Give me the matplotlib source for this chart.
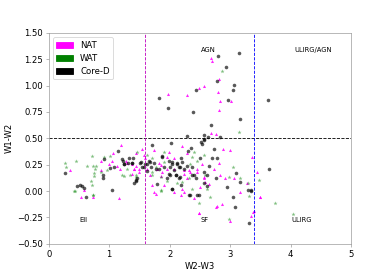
import matplotlib
matplotlib.use("Agg")
import matplotlib.pyplot as plt
import matplotlib.patches as mpatches

# colour-colour points (W2-W3, W1-W2)
nat_x = [2.68, 2.70, 2.81, 2.56, 2.48, 1.98, 2.28, 2.80, 2.84, 3.01, 2.81, 2.68, 2.77,
         1.19, 0.86, 1.00, 1.05, 1.13, 1.18, 1.30, 1.41, 1.07, 0.58, 0.53, 0.73, 1.16, 0.87,
         1.55, 1.74, 2.21, 1.44, 1.49, 1.60, 1.82, 1.96, 2.07, 1.88, 2.07, 2.23, 2.32, 2.45,
         2.56, 1.68, 1.77, 2.07, 2.18, 2.23, 2.40, 2.48, 1.38,
         3.00, 2.88, 3.36, 2.81, 2.73, 2.84, 2.92, 3.06, 3.17, 3.28, 3.50, 2.78, 2.76, 2.87,
         3.00, 3.38, 2.56, 2.65, 3.44, 3.39, 2.48, 3.49, 3.35, 0.35,
         1.44, 1.57, 1.99, 2.29, 1.27, 1.38, 1.41, 1.49, 1.63, 1.79, 1.85, 1.96, 2.23, 2.34,
         2.29, 2.45, 2.54, 1.85, 1.71, 1.90, 2.21, 1.74, 2.51, 2.59]
nat_y = [1.26, 1.23, 1.06, 1.00, 0.98, 0.92, 0.91, 0.94, 0.85, 0.85, 0.77, 0.55, 0.54,
         0.44, 0.29, 0.26, 0.29, 0.24, 0.21, 0.27, 0.21, 0.36, 0.01, -0.06, -0.06, -0.07, 0.20,
         0.40, 0.39, 0.43, 0.24, 0.21, 0.31, 0.27, 0.32, 0.31, 0.18, 0.21, 0.16, 0.20, 0.18,
         0.13, 0.15, -0.03, -0.01, -0.04, -0.01, -0.07, -0.21, 0.16,
         0.39, 0.40, 0.32, 0.27, 0.21, 0.15, 0.12, 0.12, -0.01, 0.08, -0.06, -0.14, -0.15, -0.12,
         -0.28, -0.20, 0.12, 0.07, 0.18, -0.19, -0.21, -0.06, -0.24, 0.20,
         0.36, 0.34, 0.37, 0.36, 0.29, 0.26, 0.21, 0.18, 0.21, 0.21, 0.25, 0.21, 0.20, 0.18,
         0.12, 0.21, 0.26, 0.14, 0.06, 0.06, 0.02, -0.01, 0.04, 0.09]

wat_x = [2.87, 3.14,
         0.27, 0.28, 0.45, 0.72, 0.64, 0.73, 0.78, 0.76, 0.75, 0.75, 0.70, 0.71, 0.43, 0.74,
         0.91, 1.02, 1.24, 1.34, 0.86, 0.97, 0.42, 0.73,
         1.46, 1.90, 2.37, 2.45, 1.71, 1.85, 2.32, 1.85, 2.37, 2.48, 1.44, 1.63, 2.12,
         3.04, 3.16, 2.99, 3.29, 3.31, 3.47, 2.99, 2.59, 2.67, 3.75, 4.04,
         1.22, 1.30, 1.44, 1.71, 1.77, 1.90, 1.96, 1.85, 2.34, 2.40, 2.56, 2.21, 1.71, 2.62]
wat_y = [1.14, 0.56,
         0.27, 0.23, 0.29, 0.33, 0.24, 0.24, 0.24, 0.21, 0.17, 0.14, 0.10, 0.06, 0.00, -0.04,
         0.32, 0.33, 0.14, 0.15, 0.18, 0.20, 0.00, -0.04,
         0.37, 0.37, 0.32, 0.29, 0.18, 0.13, 0.12, 0.00, 0.02, -0.11, 0.13, 0.34, 0.08,
         0.23, 0.12, 0.13, 0.08, -0.05, 0.11, -0.26, 0.15, -0.06, -0.11, -0.22,
         0.15, 0.21, 0.15, 0.31, 0.23, 0.28, 0.10, 0.01, 0.26, 0.37, 0.34, 0.09, 0.15, 0.02]

cored_x = [2.80, 3.14, 2.93, 2.79, 3.07, 3.04, 2.44, 1.82, 1.97, 2.96, 2.39, 3.17, 2.68,
           3.63, 2.28, 2.57, 2.64, 2.84, 2.56,
           0.27, 0.46, 0.51, 0.55, 0.58, 0.62, 1.05, 0.89, 0.90, 1.14, 0.92, 1.01, 1.08,
           1.22, 1.25, 1.32, 1.39, 1.37, 1.44,
           1.71, 2.02, 2.35, 2.30, 2.52, 1.38, 1.51, 1.57, 1.63, 1.66, 1.69, 1.74, 1.77,
           1.82, 1.88, 1.90, 1.99, 2.04, 2.12, 2.15, 2.18, 2.23, 2.29, 2.37, 1.99, 2.10,
           2.17, 2.04, 2.18, 2.33, 2.45, 1.41, 1.46, 1.62, 1.96, 2.40,
           2.73, 2.56, 2.54, 2.70, 2.78, 2.65, 3.10, 2.76, 2.56, 2.95, 3.05, 3.16, 3.30,
           3.34, 3.31, 3.65, 2.62, 3.08, 3.35,
           1.23, 1.31, 1.24, 1.52, 1.60, 1.68, 1.88, 2.04, 2.01, 2.12, 2.17, 2.07, 2.01,
           2.10, 2.15, 2.51, 2.56, 2.62, 2.37, 1.79, 1.44, 2.04, 2.32, 2.48, 2.43, 2.21, 1.55]
cored_y = [1.28, 1.31, 1.18, 1.04, 1.01, 0.96, 0.96, 0.88, 0.79, 0.86, 0.75, 0.68, 0.63,
           0.86, 0.52, 0.53, 0.51, 0.51, 0.49,
           0.17, 0.045, 0.055, 0.05, 0.03, -0.06, 0.01, 0.12, 0.155, 0.38, 0.30, 0.22, 0.23,
           0.30, 0.26, 0.31, 0.31, 0.27, 0.11,
           0.44, 0.46, 0.41, 0.38, 0.47, 0.27, 0.27, 0.23, 0.26, 0.29, 0.23, 0.27, 0.21,
           0.21, 0.32, 0.23, 0.29, 0.26, 0.27, 0.23, 0.31, 0.21, 0.24, 0.23, 0.16, 0.15,
           0.13, 0.02, 0.06, -0.04, -0.04, 0.08, 0.12, 0.19, 0.12, 0.15,
           0.40, 0.48, 0.45, 0.31, 0.31, 0.24, 0.17, 0.12, 0.08, 0.04, -0.06, 0.09, 0.01,
           0.01, -0.30, 0.21, 0.05, -0.15, 0.00,
           0.29, 0.27, 0.26, 0.28, 0.26, 0.28, 0.33, 0.28, 0.23, 0.26, 0.23, 0.20, 0.15,
           0.15, 0.12, 0.31, 0.18, 0.15, 0.15, 0.07, 0.10, 0.02, -0.04, -0.04, 0.12, 0.28, 0.23]

region_labels = ["AGN", "ULIRG/AGN", "Ell", "SF", "ULIRG"]
region_x = [2.64, 4.37, 0.58, 2.57, 4.19]
region_y = [1.34, 1.34, -0.27, -0.27, -0.27]

fig = plt.figure(figsize=(390 / 61, 274 / 61), dpi=61)
ax = fig.add_subplot(111)

ax.scatter(nat_x, nat_y, marker='^', s=13, color='magenta', alpha=0.85, linewidths=0)
ax.scatter(wat_x, wat_y, marker='*', s=26, color='green', alpha=0.5, linewidths=0)
ax.scatter(cored_x, cored_y, marker='o', s=18, color='black', alpha=0.65, linewidths=0)

ax.axhline(0.5, color='black', ls='--', lw=1)
ax.axvline(1.6, color='m', ls='--', lw=1)
ax.axvline(3.4, color='blue', ls='--', lw=1)

for lab, tx, ty in zip(region_labels, region_x, region_y):
    ax.text(tx, ty, lab, fontsize=8, ha='center', va='center')

ax.set_xlim(0, 5)
ax.set_ylim(-0.5, 1.5)
ax.set_xlabel("W2-W3")
ax.set_ylabel("W1-W2")
for sp in ax.spines.values():
    sp.set_color('0.6')
ax.tick_params(color='0.6')

handles = [mpatches.Patch(color='magenta', label='NAT'),
           mpatches.Patch(color='green', label='WAT'),
           mpatches.Patch(color='black', label='Core-D')]
ax.legend(handles=handles, loc='upper left')

fig.savefig("out.png", dpi=61)
